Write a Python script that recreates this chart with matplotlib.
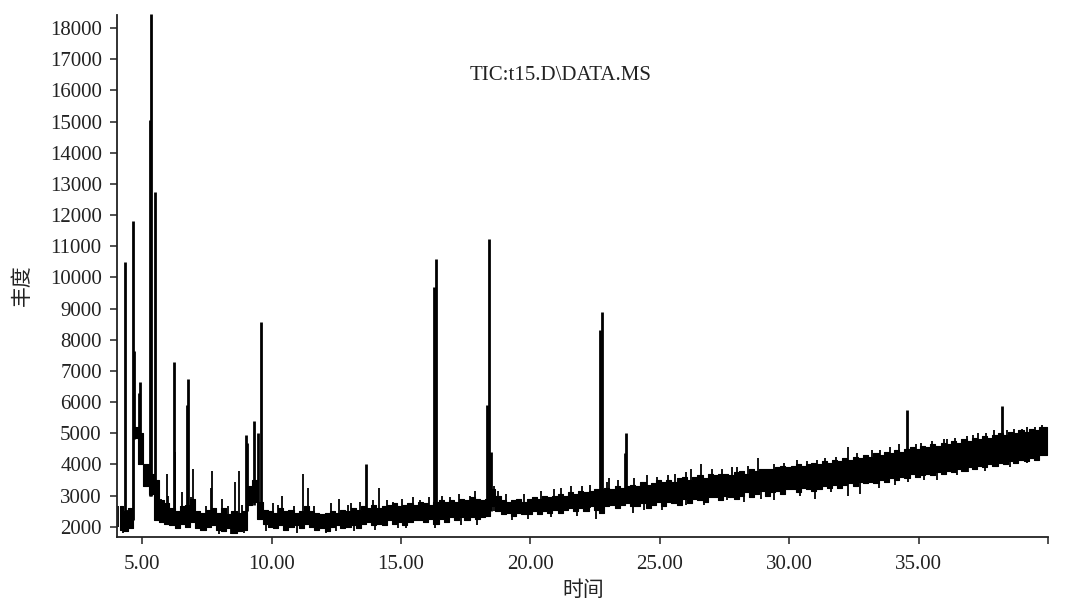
import matplotlib
matplotlib.use('Agg')
import matplotlib.pyplot as plt
import numpy as np

plt.rcParams['font.family'] = ['Liberation Serif', 'Noto Sans CJK SC']

# baseline noise band: one (low, high) envelope pair every 0.2 min, starting 4.05 min
band_t0 = 4.05
band_step = 0.2
band_lo = [1900, 1850, 1950, 4850, 4000,
           3300, 3050, 2200, 2150, 2100,
           2050, 1950, 2100, 2000, 2150,
           1950, 1900, 2000, 2050, 1900,
           1850, 1950, 1800, 1850, 1900,
           2700, 2800, 2250, 2100, 2000,
           1950, 2050, 1900, 2000, 2050,
           1950, 2100, 2000, 1900, 1950,
           1850, 2000, 2050, 1950, 2000,
           2050, 1950, 2100, 2150, 2050,
           2100, 2050, 2200, 2100, 2150,
           2050, 2150, 2200, 2200, 2150,
           2250, 2100, 2250, 2150, 2300,
           2200, 2300, 2200, 2300, 2250,
           2300, 2350, 2650, 2500, 2400,
           2450, 2350, 2450, 2400, 2400,
           2500, 2400, 2500, 2450, 2550,
           2450, 2550, 2600, 2500, 2600,
           2500, 2650, 2550, 2450, 2650,
           2700, 2600, 2700, 2750, 2650,
           2650, 2750, 2600, 2700, 2800,
           2650, 2800, 2750, 2700, 2900,
           2750, 2900, 2850, 2800, 2950,
           2950, 2850, 3000, 2950, 2900,
           3000, 3100, 2950, 3050, 3150,
           3000, 3100, 3150, 3050, 3200,
           3200, 3100, 3250, 3200, 3150,
           3200, 3300, 3250, 3350, 3250,
           3350, 3400, 3300, 3450, 3400,
           3450, 3400, 3500, 3450, 3550,
           3500, 3600, 3550, 3700, 3600,
           3650, 3700, 3650, 3750, 3700,
           3800, 3750, 3850, 3800, 3900,
           3850, 3950, 3900, 4000, 3950,
           4050, 4000, 4100, 4050, 4150,
           4100, 4200, 4150, 4300, 4300]
band_hi = [2650, 2500, 2600, 5200, 5000,
           4000, 3700, 3500, 2850, 2750,
           2600, 2500, 2650, 2700, 2900,
           2500, 2450, 2550, 2600, 2450,
           2600, 2400, 2500, 2450, 2500,
           3300, 3500, 2800, 2550, 2500,
           2450, 2600, 2500, 2550, 2450,
           2500, 2650, 2500, 2450, 2400,
           2450, 2500, 2450, 2550, 2500,
           2600, 2550, 2650, 2600, 2700,
           2600, 2650, 2700, 2750, 2650,
           2700, 2750, 2700, 2800, 2750,
           2700, 2800, 2850, 2800, 2850,
           2800, 2900, 2850, 2950, 2900,
           2850, 2900, 3200, 3000, 2850,
           2800, 2850, 2900, 2800, 2900,
           2950, 2900, 3000, 2950, 3000,
           3050, 3000, 3100, 3050, 3150,
           3100, 3150, 3200, 3200, 3250,
           3200, 3300, 3250, 3300, 3350,
           3300, 3450, 3350, 3400, 3500,
           3450, 3500, 3450, 3550, 3600,
           3500, 3600, 3650, 3550, 3700,
           3650, 3700, 3700, 3650, 3750,
           3800, 3700, 3850, 3800, 3850,
           3850, 3850, 3900, 3950, 3900,
           3950, 4000, 3950, 4000, 4050,
           4000, 4100, 4050, 4150, 4100,
           4200, 4150, 4250, 4200, 4300,
           4250, 4350, 4300, 4400, 4350,
           4450, 4400, 4500, 4550, 4500,
           4600, 4550, 4650, 4600, 4700,
           4650, 4750, 4700, 4800, 4750,
           4850, 4800, 4900, 4850, 4950,
           5000, 4950, 5050, 5000, 5100,
           5050, 5150, 5100, 5200, 5200]

# main peaks
peak_t = [4.32, 4.63, 4.67, 4.86, 4.90, 5.30, 5.36, 5.50, 6.23, 6.72, 6.76,
          9.01, 9.06, 9.32, 9.47, 9.59, 13.64, 16.27, 16.34, 18.33, 18.39, 18.47,
          22.70, 22.75, 23.64, 23.68, 34.56, 38.23]
peak_base = [2000, 2200, 4800, 4000, 4000, 3000, 3000, 2300, 2200, 2200, 2200,
             2500, 2500, 2700, 2600, 2400, 2300, 2300, 2300, 2400, 2400, 2500,
             2700, 2700, 2800, 2800, 3800, 4300]
peak_top = [10500, 11800, 7650, 6300, 6650, 15050, 18450, 12750, 7300, 5900, 6750,
            4950, 4700, 5400, 5000, 8580, 4000, 9700, 10580, 5900, 11220, 4400,
            8300, 8900, 4350, 5000, 5730, 5880]

# small noise spikes above the band
spike_t = [4.08, 4.17, 4.42, 5.72, 5.95, 6.00, 6.27, 6.53, 6.90, 6.96, 7.45, 7.66,
           7.69, 8.07, 8.33, 8.59, 8.73, 8.87, 10.04, 10.40, 11.21, 11.40, 12.60,
           13.40, 13.90, 14.15, 14.70, 15.72, 16.90, 17.65, 18.60, 18.75, 20.40,
           21.57, 22.30, 23.05, 24.50, 25.60, 26.20, 26.60, 27.40, 28.00, 28.80,
           29.40, 30.30, 31.07, 31.80, 32.27, 33.20, 33.90, 34.23, 35.10, 35.97,
           36.40, 36.86, 37.30, 37.90, 38.70, 39.20, 39.75,
           10.25, 10.85, 11.65, 12.30, 12.95, 13.05, 14.45, 15.05, 15.45, 16.10,
           16.60, 17.25, 17.85, 19.05, 19.75, 20.90, 21.20, 22.00, 22.95, 23.40,
           24.00, 24.90, 25.30, 26.00, 27.00, 27.80, 28.40, 29.80, 30.70, 31.40,
           32.60, 33.50, 34.90, 35.50, 36.10, 37.10, 37.60, 38.40, 39.00, 39.50]
spike_base = [2000, 2000, 2000, 2200, 2200, 2200, 2200, 2200, 2200, 2200, 2100, 2100,
              2100, 2000, 2000, 2000, 2000, 2000, 2100, 2100, 2100, 2100, 2100,
              2100, 2100, 2200, 2200, 2200, 2300, 2300, 2500, 2500, 2500,
              2600, 2600, 2700, 2800, 2900, 2900, 3000, 3000, 3100, 3200,
              3200, 3300, 3300, 3400, 3500, 3600, 3600, 3700, 3800, 3900,
              3900, 4000, 4000, 4100, 4200, 4300, 4400,
              2200, 2200, 2100, 2100, 2100, 2150, 2200, 2200, 2250, 2300,
              2300, 2350, 2400, 2500, 2500, 2550, 2600, 2650, 2750, 2750,
              2800, 2900, 2900, 3000, 3100, 3200, 3200, 3300, 3400, 3450,
              3550, 3650, 3800, 3900, 3950, 4100, 4150, 4250, 4350, 4400]
spike_top = [2650, 2600, 2550, 2900, 3700, 3000, 4400, 3100, 2950, 3850, 2650, 3250,
             3800, 2900, 2650, 3450, 3800, 2700, 2750, 3000, 3700, 3250, 2900,
             2800, 2850, 3250, 2800, 2850, 2950, 3000, 3300, 3150, 3150,
             3300, 3350, 3550, 3650, 3700, 3850, 4000, 3850, 3900, 4200,
             4000, 4150, 4150, 4250, 4550, 4450, 4550, 4650, 4700, 4800,
             4850, 4900, 5000, 5100, 5150, 5200, 5250,
             2700, 2650, 2650, 2750, 2700, 2750, 2850, 2900, 2950, 2950,
             3000, 3050, 3150, 3050, 3050, 3200, 3250, 3300, 3450, 3500,
             3550, 3600, 3650, 3750, 3850, 3900, 3950, 4050, 4100, 4200,
             4350, 4450, 4650, 4750, 4800, 4950, 5000, 5100, 5150, 5200]

# downward dips below the band
dip_t = [4.25, 7.95, 8.45, 8.95, 10.65, 11.00, 12.10, 13.20, 15.20, 16.30, 17.95,
         19.30, 20.80, 22.55, 23.95, 25.10, 26.70, 27.60, 28.25, 29.40, 31.00,
         32.27, 32.75, 33.46, 34.60, 35.70, 36.50, 37.58, 38.54, 39.20, 39.90,
         9.80, 12.50, 14.00, 14.90, 17.30, 19.90, 21.80, 24.40, 26.00, 28.90,
         30.40, 31.60, 34.10, 35.20, 36.90, 38.00]
dip_low = [1800, 1750, 1750, 1800, 1850, 1800, 1800, 1850, 1950, 1950, 2050,
           2200, 2300, 2250, 2450, 2550, 2700, 2850, 2800, 2850, 2900,
           3000, 3050, 3250, 3450, 3500, 3650, 3800, 3900, 4050, 4350,
           1850, 1850, 1900, 1950, 2050, 2250, 2350, 2550, 2700, 2900,
           3000, 3100, 3350, 3500, 3750, 3900]
dip_high = [2300, 2300, 2300, 2300, 2400, 2400, 2400, 2500, 2600, 2600, 2700,
            2800, 2900, 3000, 3100, 3200, 3300, 3400, 3500, 3600, 3700,
            3800, 3900, 4000, 4100, 4200, 4300, 4400, 4500, 4600, 4700,
            2300, 2300, 2400, 2400, 2500, 2700, 2800, 3000, 3100, 3400,
            3500, 3600, 3900, 4000, 4200, 4400]

x_ticks = [5, 10, 15, 20, 25, 30, 35, 40]
x_labels = ['5.00', '10.00', '15.00', '20.00', '25.00', '30.00', '35.00', '']
y_ticks = list(range(2000, 18001, 1000))

band_t = band_t0 + band_step * np.arange(len(band_lo)) + band_step / 2

fig = plt.figure(figsize=(10.66, 6.02), dpi=100)
ax = fig.add_axes([0.1098, 0.108, 0.8734, 0.8671])

ax.fill_between(band_t, band_lo, band_hi, step='mid', color='black', lw=0.8)
ax.vlines(spike_t, spike_base, spike_top, color='black', lw=1.3)
ax.vlines(dip_t, dip_low, dip_high, color='black', lw=1.3)
ax.vlines(peak_t, peak_base, peak_top, color='black', lw=2.0, clip_on=False)

ax.set_xlim(4.03, 40.0)
ax.set_ylim(1670, 18420)
ax.set_xticks(x_ticks)
ax.set_xticklabels(x_labels)
ax.set_yticks(y_ticks)

for s in ['top', 'right']:
    ax.spines[s].set_visible(False)
for s in ['left', 'bottom']:
    ax.spines[s].set_linewidth(1.3)
    ax.spines[s].set_color('#222222')

ax.tick_params(axis='both', direction='out', length=5, width=1.1,
               colors='#222222', labelsize=15)
ax.tick_params(axis='x', pad=8)
ax.tick_params(axis='y', pad=6)

ax.text(0.476, 0.885, 'TIC:t15.D\\DATA.MS', transform=ax.transAxes,
        ha='center', va='center', fontsize=15, color='#222222')

fig.text(0.547, 0.020, '时间', ha='center', va='center', fontsize=15,
         family=['Noto Sans CJK SC', 'DejaVu Sans'], color='#222222')
fig.text(0.0206, 0.527, '丰度', ha='center', va='center', rotation=90, fontsize=15,
         family=['Noto Sans CJK SC', 'DejaVu Sans'], color='#222222')

fig.savefig('out.png', dpi=100)
